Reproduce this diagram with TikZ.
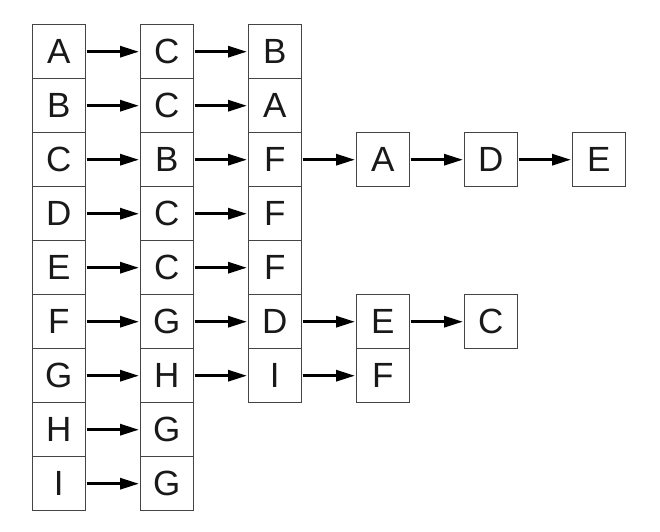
\documentclass[tikz,border=0pt]{standalone}
\usepackage{fontspec}
\setmainfont{Liberation Sans}
\usetikzlibrary{arrows.meta}
\definecolor{boxline}{HTML}{444444}
\tikzset{
  cell/.style={draw=boxline, line width=1pt, minimum width=53.5pt, minimum height=54pt,
    inner sep=0pt, font=\fontsize{35}{40}\selectfont, text=black!90},
  link/.style={line width=3pt, -{Triangle[length=19pt,width=11pt]}, shorten <=0.5pt, shorten >=0.5pt}
}
\begin{document}
\begin{tikzpicture}[x=1pt,y=-1pt]
\useasboundingbox (0,0) rectangle (660,531);
\foreach \r/\lst in {0/{A,C,B},1/{B,C,A},2/{C,B,F,A,D,E},3/{D,C,F},4/{E,C,F},5/{F,G,D,E,C},6/{G,H,I,F},7/{H,G},8/{I,G}}{
  \foreach \t [count=\c from 0] in \lst {
    \node[cell] (n-\r-\c) at ({58.75+108*\c},{51.7+54*\r}) {\t};
    \ifnum\c>0
      \pgfmathtruncatemacro{\p}{\c-1}
      \draw[link] (n-\r-\p.east) -- (n-\r-\c.west);
    \fi
  }
}
\end{tikzpicture}
\end{document}
